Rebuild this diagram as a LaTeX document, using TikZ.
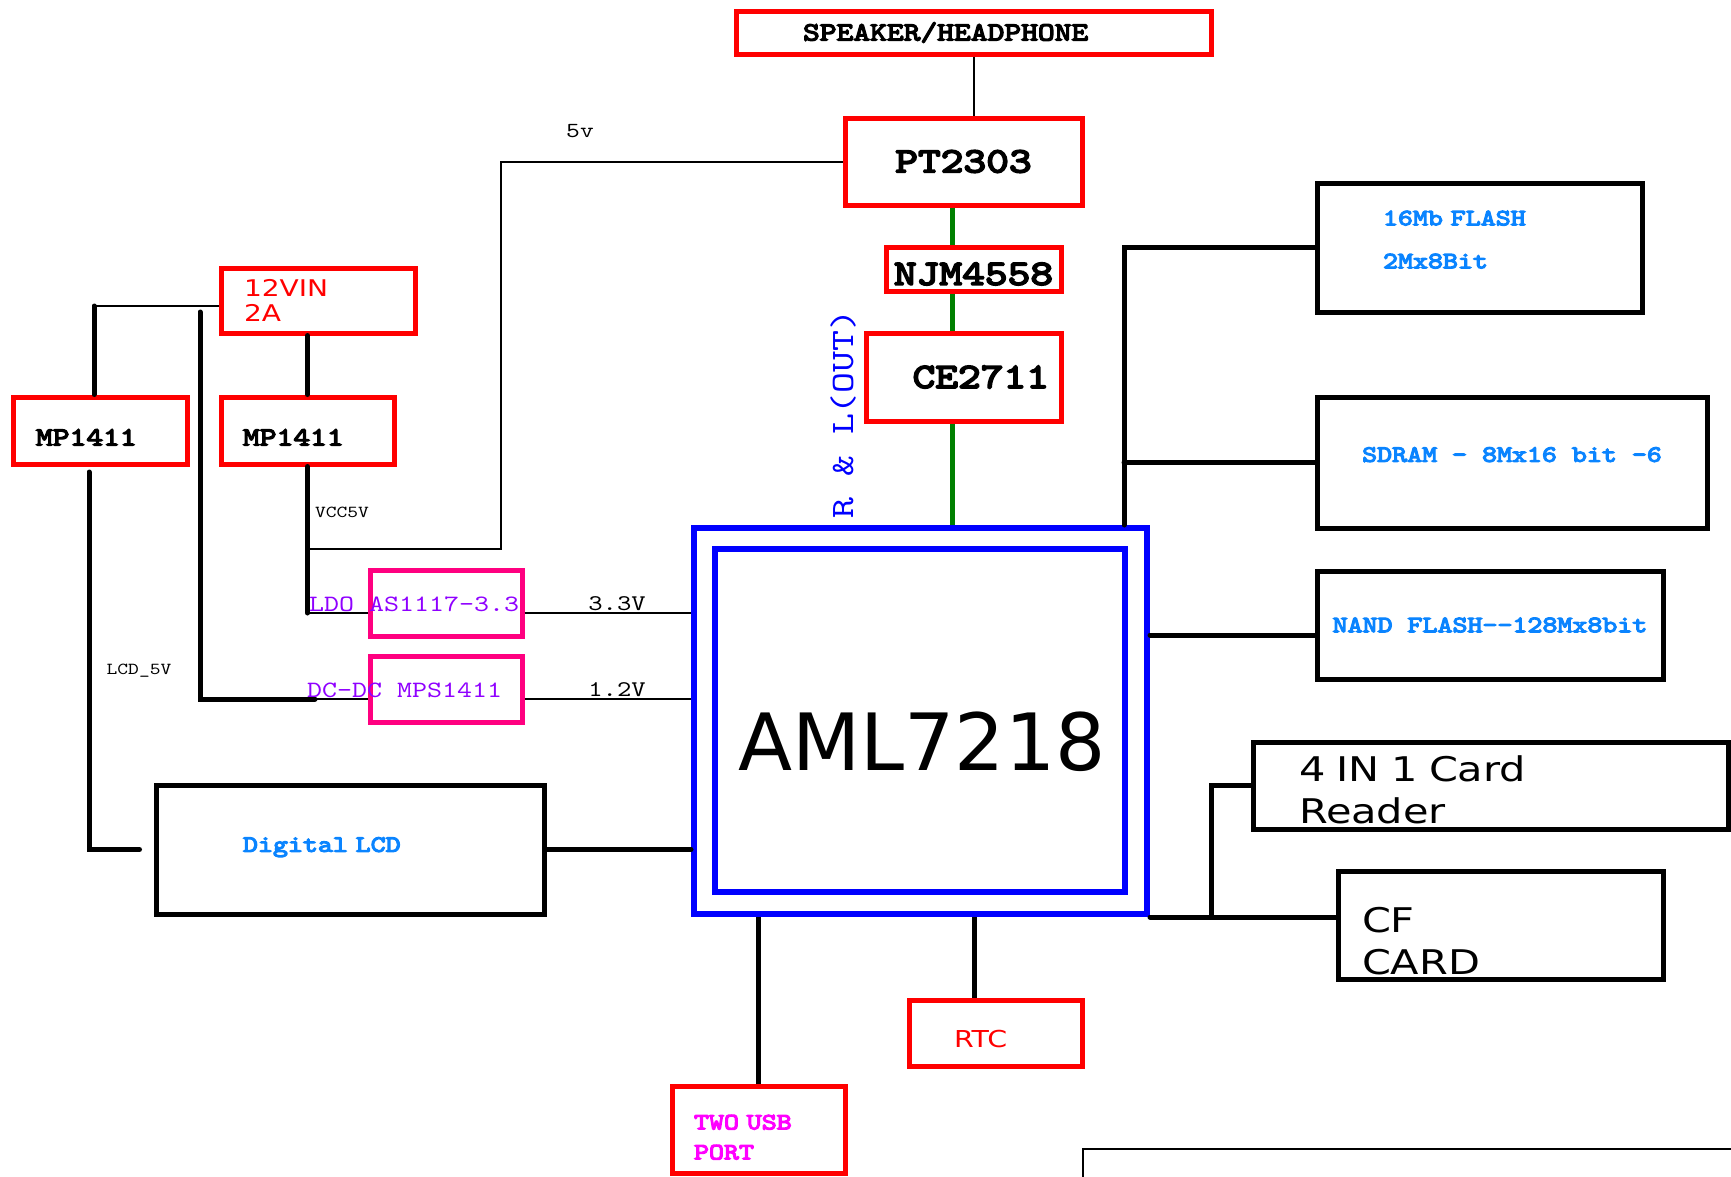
\documentclass[tikz,border=0pt]{standalone}
\usepackage{fontspec}
\usepackage{tikz}
\usetikzlibrary{positioning}
\newfontfamily\monofont{lmmono10-regular.otf}[FakeStretch=1.22]
\newfontfamily\monobold{lmmono10-regular.otf}[FakeStretch=1.22,FakeBold=5]
\newfontfamily\chipfont{DejaVu Sans}
\newfontfamily\cardfont{DejaVu Sans}[FakeStretch=1.22]
\definecolor{BoxRed}{HTML}{FF0000}
\definecolor{BoxPink}{HTML}{FF0080}
\definecolor{ChipBlue}{HTML}{0000FF}
\definecolor{MemBlue}{HTML}{0A84FF}
\definecolor{RegViolet}{HTML}{8F00FF}
\definecolor{UsbMagenta}{HTML}{FF00FF}
\definecolor{AudioGreen}{HTML}{008000}

\begin{document}
\begin{tikzpicture}[
    x=1pt,y=-1pt,
    wire/.style={line width=2pt,draw=black},
    bus/.style={line width=5pt,draw=black,line cap=round},
    stub/.style={line width=5pt,draw=black},
    audio/.style={line width=5pt,draw=AudioGreen},
    redbox/.style={draw=BoxRed,line width=5pt,inner sep=0pt,align=center},
    pinkbox/.style={draw=BoxPink,line width=5pt,inner sep=0pt},
    chipbox/.style={draw=ChipBlue,line width=6pt,inner sep=0pt},
    membox/.style={draw=black,line width=5pt,inner sep=0pt,align=center,
      text=MemBlue,font=\monobold\fontsize{23.4}{43}\selectfont},
    cardbox/.style={draw=black,line width=5pt,inner sep=0pt,align=left,
      font=\cardfont\fontsize{34}{42}\selectfont},
    partname/.style={font=\monobold\fontsize{35.5}{40}\selectfont},
    regname/.style={font=\monobold\fontsize{26.2}{30}\selectfont},
    reglabel/.style={inner sep=0pt,anchor=west,text=RegViolet,
      font=\monofont\fontsize{23.4}{25}\selectfont},
    netlabel/.style={inner sep=0pt,font=\monofont\fontsize{22.4}{24}\selectfont},
    smalllabel/.style={inner sep=0pt,font=\monofont\fontsize{16.8}{18}\selectfont}
  ]
    \useasboundingbox (0,0) rectangle (1731,1176);

    % Audio output chain.
    \node[redbox,regname,minimum width=475pt,minimum height=43pt,
      align=left,inner xsep=67pt,text width=341pt] (speaker) at (973.5,32.5)
      {SPEAKER/HEADPHONE};
    \node[redbox,partname,minimum width=237pt,minimum height=87pt] (pt2303)
      at (963.5,161.5) {PT2303};
    \node[redbox,partname,minimum width=175pt,minimum height=44pt,
      text height=32pt] (njm) at (973.5,269) {NJM4558};
    \node[redbox,partname,minimum width=195pt,minimum height=88pt,
      align=right,inner xsep=12pt,text width=171pt] (ce2711) at (963.5,377)
      {CE2711};
    \node[rotate=90,text=ChipBlue,font=\monofont\fontsize{32.7}{35}\selectfont]
      (rlout) at (843,414) {R \& L(OUT)};

    % Main chip.
    \node[chipbox,minimum width=453pt,minimum height=386pt] (aml)
      at (920.5,721) {};
    \node[chipbox,minimum width=410pt,minimum height=343pt] (amlcore)
      at (920,720.5) {};
    \node[inner sep=0pt,font=\chipfont\fontsize{79}{79}\selectfont] (amlname)
      at (922,742) {AML7218};

    % Memories.
    \node[membox,minimum width=325pt,minimum height=129pt,align=left,
      inner xsep=66pt,text width=193pt,text depth=59pt] (flash)
      at (1479.5,247.5) {16Mb FLASH\\2Mx8Bit};
    \node[membox,minimum width=390pt,minimum height=131pt,text depth=16pt]
      (sdram) at (1512,462.5) {SDRAM - 8Mx16 bit -6};
    \node[membox,minimum width=346pt,minimum height=108pt] (nand)
      at (1490,625) {NAND FLASH--128Mx8bit};

    % Cards, RTC, USB.
    \node[cardbox,minimum width=475pt,minimum height=87pt,inner xsep=46pt,
      text width=383pt,text height=35pt] (cardrd) at (1490.5,785.5)
      {4 IN 1 Card\\Reader};
    \node[cardbox,minimum width=325pt,minimum height=108pt,inner xsep=24pt,
      text width=277pt,text height=57pt] (cf) at (1500.5,925) {CF\\CARD};
    \node[redbox,minimum width=173pt,minimum height=66pt,align=left,
      inner xsep=45pt,text width=83pt,text=BoxRed,text height=29pt,
      font=\cardfont\fontsize{23.3}{28}\selectfont] (rtc) at (995.5,1033) {RTC};
    \node[redbox,minimum width=173pt,minimum height=87pt,align=left,
      inner xsep=22pt,text width=129pt,text=UsbMagenta,text height=30pt,
      font=\monobold\fontsize{23.4}{30}\selectfont] (usb)
      at (758.5,1129.5) {TWO USB\\PORT};
    \node[draw,line width=2pt,anchor=north west,minimum width=800pt,
      minimum height=200pt] (titleblock) at (1082,1148) {};

    % Power supply.
    \node[redbox,minimum width=194pt,minimum height=65pt,align=left,
      inner xsep=23pt,text width=148pt,text=BoxRed,
      font=\cardfont\fontsize{23}{25}\selectfont] (vin) at (318,300.5)
      {12VIN\\2A};
    \node[redbox,regname,minimum width=174pt,minimum height=67pt,align=left,
      inner xsep=23pt,text width=128pt,text height=30pt] (mpl) at (100,430.5)
      {MP1411};
    \node[redbox,regname,minimum width=173pt,minimum height=67pt,align=left,
      inner xsep=22pt,text width=129pt,text height=30pt] (mpr) at (307.5,430.5)
      {MP1411};
    \node[pinkbox,minimum width=152pt,minimum height=66pt] (as1117)
      at (446,603) {};
    \node[pinkbox,minimum width=152pt,minimum height=66pt] (mps1411)
      at (446,689) {};
    \node[reglabel] (ldo) at (309,604) {LDO AS1117-3.3};
    \node[reglabel] (dcdc) at (307,690) {DC-DC MPS1411};

    % LCD.
    \node[draw=black,line width=5pt,inner sep=0pt,align=left,inner xsep=87pt,
      minimum width=388pt,minimum height=129pt,text width=214pt,text=MemBlue,
      text depth=10pt,font=\monobold\fontsize{23.4}{25}\selectfont] (lcd)
      at (350,849.5) {Digital LCD};

    % Audio wiring.
    \draw[wire] (speaker.south) -- (speaker.south |- pt2303.north);
    \coordinate (sig) at (952,0);
    \draw[audio] (pt2303.south -| sig) -- (njm.north -| sig);
    \draw[audio] (njm.south -| sig) -- (ce2711.north -| sig);
    \draw[audio] (ce2711.south -| sig) -- (aml.north -| sig);

    % Supply wiring.
    \coordinate (vcctap) at (501,549);
    \draw[wire] (pt2303.west) -| (vcctap) -- (vcctap -| mpr.south);
    \node[netlabel,font=\monofont\fontsize{21.5}{23}\selectfont] (fivev)
      at (580,131) {5v};
    \coordinate (vinleft) at (94,306);
    \draw[wire] (vinleft -| vin.west) -- (vinleft);
    \draw[bus] (vinleft) -- (vinleft |- mpl.north);
    \draw[bus] (vin.south -| mpr.north) -- (mpr.north);
    \coordinate (ldoin) at (307.5,613);
    \draw[bus] (mpr.south) -- (ldoin);
    \draw[wire] (ldoin) -- (ldoin -| as1117.west);
    \node[smalllabel] (vcc5v) at (342,512) {VCC5V};
    \coordinate (dcin) at (200,312);
    \coordinate (dcjoin) at (315,699);
    \draw[bus] (dcin) |- (dcjoin);
    \draw[wire] (dcjoin) -- (dcjoin -| mps1411.west);
    \draw[wire] (ldoin -| as1117.east) -- (ldoin -| aml.west);
    \draw[wire] (dcjoin -| mps1411.east) -- (dcjoin -| aml.west);
    \node[netlabel] (v33) at (617,604) {3.3V};
    \node[netlabel] (v12) at (617,690) {1.2V};
    \coordinate (lcdpwr) at (89,472);
    \draw[bus] (lcdpwr) |- ([xshift=-14pt]lcd.west);
    \node[smalllabel] (lcd5v) at (139,671) {LCD\_5V};
    \draw[bus] (lcd.east) -- (lcd.east -| aml.west);

    % Memory and card wiring.
    \coordinate (membus) at (1124,0);
    \draw[bus] (aml.north -| membus) |- (flash.west);
    \draw[bus] (sdram.west) -- (sdram.west -| membus);
    \draw[bus] ([yshift=-10pt]nand.west -| aml.east) -- ([yshift=-10pt]nand.west);
    \coordinate (cardsplit) at (1211,0);
    \draw[bus] (aml.south east) -- (aml.south east -| cf.west);
    \draw[bus] (aml.south east -| cardsplit) |- (cardrd.west);
    \coordinate (rtctap) at (974,0);
    \draw[stub] (aml.south -| rtctap) -- (rtc.north -| rtctap);
    \draw[stub] (aml.south -| usb.north) -- (usb.north);
  \end{tikzpicture}
\end{document}
